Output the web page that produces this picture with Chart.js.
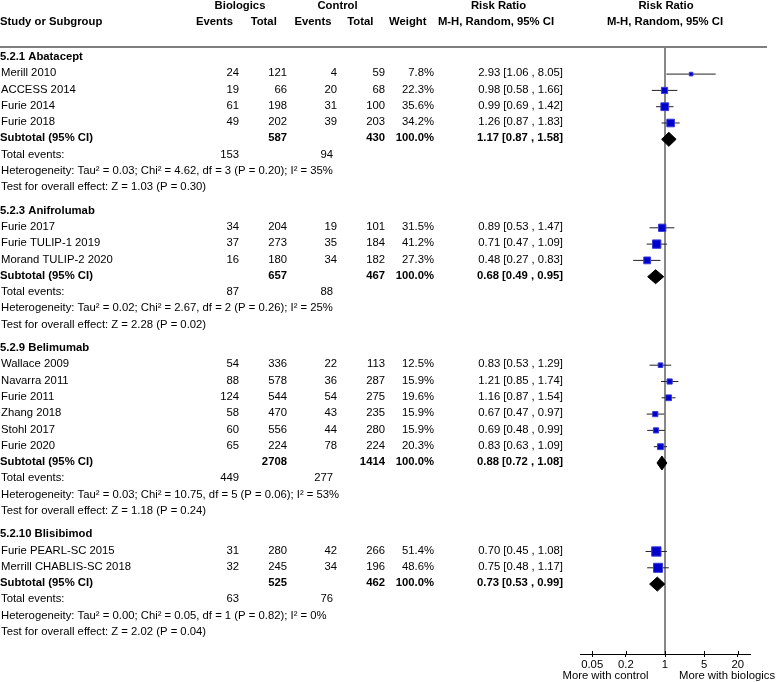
<!DOCTYPE html>
<html>
<head>
<meta charset="utf-8">
<script src="https://cdn.jsdelivr.net/npm/chart.js@4.4.0/dist/chart.umd.min.js"></script>
<style>
  body { margin: 0; background: #fff; }
  canvas { display: block; }
</style>
</head>
<body>
<canvas id="forest" width="778" height="682"></canvas>
<script>
// subgroups
const groupNames = ['5.2.1 Abatacept', '5.2.3 Anifrolumab', '5.2.9 Belimumab', '5.2.10 Blisibimod'];

// individual studies
const studyNames = ['Merill 2010', 'ACCESS 2014', 'Furie 2014', 'Furie 2018',
  'Furie 2017', 'Furie TULIP-1 2019', 'Morand TULIP-2 2020',
  'Wallace 2009', 'Navarra 2011', 'Furie 2011', 'Zhang 2018', 'Stohl 2017', 'Furie 2020',
  'Furie PEARL-SC 2015', 'Merrill CHABLIS-SC 2018'];
const studyGroup = [0, 0, 0, 0, 1, 1, 1, 2, 2, 2, 2, 2, 2, 3, 3];
const bioEvents = [24, 19, 61, 49, 34, 37, 16, 54, 88, 124, 58, 60, 65, 31, 32];
const bioTotal = [121, 66, 198, 202, 204, 273, 180, 336, 578, 544, 470, 556, 224, 280, 245];
const ctlEvents = [4, 20, 31, 39, 19, 35, 34, 22, 36, 54, 43, 44, 78, 42, 34];
const ctlTotal = [59, 68, 100, 203, 101, 184, 182, 113, 287, 275, 235, 280, 224, 266, 196];
const weights = [7.8, 22.3, 35.6, 34.2, 31.5, 41.2, 27.3, 12.5, 15.9, 19.6, 15.9, 15.9, 20.3, 51.4, 48.6];
const rr = [2.93, 0.98, 0.99, 1.26, 0.89, 0.71, 0.48, 0.83, 1.21, 1.16, 0.67, 0.69, 0.83, 0.70, 0.75];
const rrLow = [1.06, 0.58, 0.69, 0.87, 0.53, 0.47, 0.27, 0.53, 0.85, 0.87, 0.47, 0.48, 0.63, 0.45, 0.48];
const rrHigh = [8.05, 1.66, 1.42, 1.83, 1.47, 1.09, 0.83, 1.29, 1.74, 1.54, 0.97, 0.99, 1.09, 1.08, 1.17];

// subtotals per subgroup
const subBioTotal = [587, 657, 2708, 525];
const subCtlTotal = [430, 467, 1414, 462];
const subRR = [1.17, 0.68, 0.88, 0.73];
const subLow = [0.87, 0.49, 0.72, 0.53];
const subHigh = [1.58, 0.95, 1.08, 0.99];
const bioEventsTotal = [153, 87, 449, 63];
const ctlEventsTotal = [94, 88, 277, 76];
const heterogeneity = [
  'Heterogeneity: Tau² = 0.03; Chi² = 4.62, df = 3 (P = 0.20); I² = 35%',
  'Heterogeneity: Tau² = 0.02; Chi² = 2.67, df = 2 (P = 0.26); I² = 25%',
  'Heterogeneity: Tau² = 0.03; Chi² = 10.75, df = 5 (P = 0.06); I² = 53%',
  'Heterogeneity: Tau² = 0.00; Chi² = 0.05, df = 1 (P = 0.82); I² = 0%'
];
const overallEffect = [
  'Test for overall effect: Z = 1.03 (P = 0.30)',
  'Test for overall effect: Z = 2.28 (P = 0.02)',
  'Test for overall effect: Z = 1.18 (P = 0.24)',
  'Test for overall effect: Z = 2.02 (P = 0.04)'
];

const xTicks = [0.05, 0.2, 1, 5, 20];

// layout of the rows (in row units, y axis reversed)
const ROW_GAP = 0.43;
const Y_MIN = -0.663;
const Y_MAX = 36.58;
const DIAMOND_H = 0.43;

const rows = [];
let idx = 0;
groupNames.forEach((name, g) => {
  const off = g * ROW_GAP;
  rows.push({ kind: 'group', g, v: idx++ + off });
  studyGroup.forEach((sg, i) => {
    if (sg === g) rows.push({ kind: 'study', g, i, v: idx++ + off });
  });
  rows.push({ kind: 'subtotal', g, v: idx++ + off });
  rows.push({ kind: 'events', g, v: idx++ + off });
  rows.push({ kind: 'het', g, v: idx++ + off });
  rows.push({ kind: 'effect', g, v: idx++ + off });
});

const studyRows = rows.filter(r => r.kind === 'study');
const subRows = rows.filter(r => r.kind === 'subtotal');

const ciData = [];
studyRows.forEach(r => {
  ciData.push({ x: rrLow[r.i], y: r.v }, { x: rrHigh[r.i], y: r.v }, { x: rrHigh[r.i], y: null });
});
const markerData = studyRows.map(r => ({ x: rr[r.i], y: r.v }));
const markerRadius = studyRows.map(r => 1.3 * Math.sqrt(weights[r.i]) / 1.414);

const datasets = [
  {
    label: 'no effect',
    data: [{ x: 1, y: Y_MIN }, { x: 1, y: Y_MAX }],
    showLine: true, borderColor: '#888888', borderWidth: 2, pointRadius: 0, order: 10
  },
  {
    label: 'ci',
    data: ciData,
    showLine: true, spanGaps: false, borderColor: '#222222', borderWidth: 1, pointRadius: 0, order: 5
  },
  {
    label: 'studies',
    data: markerData,
    pointStyle: 'rect', pointRadius: markerRadius, backgroundColor: '#0000cc',
    borderColor: '#3a3ad8', borderWidth: 1, order: 1
  }
];
subRows.forEach(r => {
  const g = r.g;
  datasets.push({
    label: 'subtotal ' + g,
    data: [
      { x: subLow[g], y: r.v }, { x: subRR[g], y: r.v - DIAMOND_H },
      { x: subHigh[g], y: r.v }, { x: subRR[g], y: r.v + DIAMOND_H }, { x: subLow[g], y: r.v }
    ],
    showLine: true, fill: 'shape', backgroundColor: '#000', borderColor: '#000',
    borderWidth: 1, pointRadius: 0, order: 0
  });
});

const FONT = '"Liberation Sans", Arial, sans-serif';
const FS = 11.3;

function txt(ctx, s, x, y, align, bold) {
  ctx.font = (bold ? 'bold ' : '') + FS + 'px ' + FONT;
  ctx.textAlign = align;
  ctx.fillText(s, x, y);
}
const fmtCI = (e, l, h) => e.toFixed(2) + ' [' + l.toFixed(2) + ' , ' + h.toFixed(2) + ']';

const tablePlugin = {
  id: 'table',
  afterDraw(chart) {
    const { ctx, scales: { x, y }, chartArea } = chart;
    ctx.save();
    ctx.fillStyle = '#000';
    ctx.textBaseline = 'middle';

    // header
    txt(ctx, 'Biologics', 240, 6, 'center', true);
    txt(ctx, 'Control', 337.5, 6, 'center', true);
    txt(ctx, 'Risk Ratio', 498.5, 6, 'center', true);
    txt(ctx, 'Risk Ratio', 666, 6, 'center', true);
    txt(ctx, 'Study or Subgroup', 0, 22, 'left', true);
    txt(ctx, 'Events', 214.5, 22, 'center', true);
    txt(ctx, 'Total', 263.7, 22, 'center', true);
    txt(ctx, 'Events', 313, 22, 'center', true);
    txt(ctx, 'Total', 360.3, 22, 'center', true);
    txt(ctx, 'Weight', 407.8, 22, 'center', true);
    txt(ctx, 'M-H, Random, 95% CI', 496, 22, 'center', true);
    txt(ctx, 'M-H, Random, 95% CI', 665, 22, 'center', true);

    ctx.strokeStyle = '#808080';
    ctx.lineWidth = 2;
    ctx.beginPath();
    ctx.moveTo(0, chartArea.top);
    ctx.lineTo(767, chartArea.top);
    ctx.stroke();

    rows.forEach(r => {
      const py = y.getPixelForValue(r.v) - 1;
      const g = r.g;
      if (r.kind === 'group') {
        txt(ctx, groupNames[g], 0, py, 'left', true);
      } else if (r.kind === 'study') {
        const i = r.i;
        txt(ctx, studyNames[i], 1, py, 'left', false);
        txt(ctx, String(bioEvents[i]), 239, py, 'right', false);
        txt(ctx, String(bioTotal[i]), 287, py, 'right', false);
        txt(ctx, String(ctlEvents[i]), 337, py, 'right', false);
        txt(ctx, String(ctlTotal[i]), 385, py, 'right', false);
        txt(ctx, weights[i].toFixed(1) + '%', 434, py, 'right', false);
        txt(ctx, fmtCI(rr[i], rrLow[i], rrHigh[i]), 563, py, 'right', false);
      } else if (r.kind === 'subtotal') {
        txt(ctx, 'Subtotal (95% CI)', 0, py, 'left', true);
        txt(ctx, String(subBioTotal[g]), 287, py, 'right', true);
        txt(ctx, String(subCtlTotal[g]), 385, py, 'right', true);
        txt(ctx, '100.0%', 434, py, 'right', true);
        txt(ctx, fmtCI(subRR[g], subLow[g], subHigh[g]), 563, py, 'right', true);
      } else if (r.kind === 'events') {
        txt(ctx, 'Total events:', 1, py, 'left', false);
        txt(ctx, String(bioEventsTotal[g]), 239, py, 'right', false);
        txt(ctx, String(ctlEventsTotal[g]), 333, py, 'right', false);
      } else if (r.kind === 'het') {
        txt(ctx, heterogeneity[g], 1, py, 'left', false);
      } else {
        txt(ctx, overallEffect[g], 1, py, 'left', false);
      }
    });

    // upper half of the tick marks
    ctx.strokeStyle = '#000';
    ctx.lineWidth = 1;
    xTicks.forEach(t => {
      const px = Math.round(x.getPixelForValue(t)) + 0.5;
      ctx.beginPath();
      ctx.moveTo(px, chartArea.bottom);
      ctx.lineTo(px, chartArea.bottom - 3);
      ctx.stroke();
    });

    txt(ctx, 'More with control', 605.5, 676, 'center', false);
    txt(ctx, 'More with biologics', 727, 676, 'center', false);
    ctx.restore();
  }
};

new Chart(document.getElementById('forest'), {
  type: 'scatter',
  data: { datasets },
  options: {
    responsive: false,
    devicePixelRatio: 1,
    animation: false,
    layout: { padding: { left: 580, right: 28, top: 47, bottom: 0 } },
    plugins: { legend: { display: false }, tooltip: { enabled: false } },
    scales: {
      x: {
        type: 'logarithmic',
        min: 1 / 33,
        max: 33,
        afterBuildTicks: (scale) => { scale.ticks = xTicks.map(v => ({ value: v })); },
        afterFit: (scale) => { scale.height = 28; },
        ticks: {
          autoSkip: false, maxRotation: 0, padding: 1, color: '#000',
          font: { family: FONT, size: 11.3 },
          callback: (v) => String(v)
        },
        grid: { drawOnChartArea: false, drawTicks: true, tickLength: 3, color: '#000' },
        border: { display: true, color: '#000', width: 1 }
      },
      y: {
        display: false,
        reverse: true,
        min: Y_MIN,
        max: Y_MAX
      }
    }
  },
  plugins: [tablePlugin]
});
</script>
</body>
</html>
